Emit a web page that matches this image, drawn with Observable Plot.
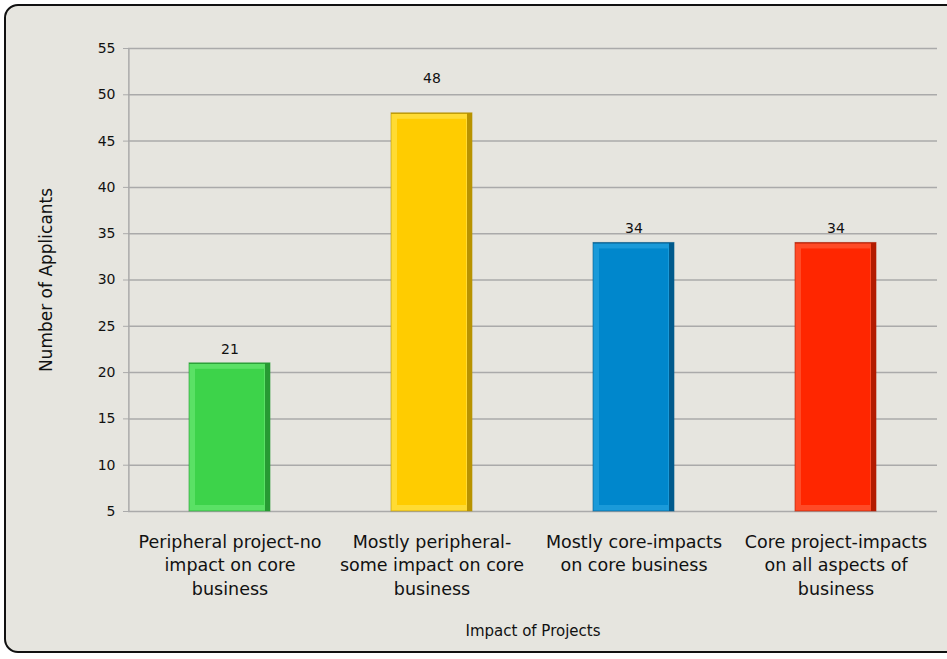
<!DOCTYPE html>
<html>
<head>
<meta charset="utf-8">
<script src="https://cdn.jsdelivr.net/npm/d3@7"></script>
<script src="https://cdn.jsdelivr.net/npm/@observablehq/plot@0.6"></script>
<style>
  html, body { margin: 0; padding: 0; background: #ffffff; }
  #frame {
    position: absolute; left: 4px; top: 4px; width: 960px; height: 649px;
    background: #e6e5df; border: 2.5px solid #111; border-radius: 14px; box-sizing: border-box;
  }
  #chart { position: absolute; left: 0; top: 0; }
</style>
</head>
<body>
<div id="frame"></div>
<div id="chart"></div>
<script>
const categories = [
  "Peripheral project-no\nimpact on core\nbusiness",
  "Mostly peripheral-\nsome impact on core\nbusiness",
  "Mostly core-impacts\non core business",
  "Core project-impacts\non all aspects of\nbusiness"
];
const values = [21, 48, 34, 34];
const mainColors = ["#3dd34a", "#ffcc00", "#0087cc", "#ff2600"];
const lightColors = ["#5ae165", "#ffdb33", "#1a9ad9", "#ff4a26"];
const darkColors = ["#279a33", "#b89300", "#005a8c", "#b31b00"];
const yTicks = [5, 10, 15, 20, 25, 30, 35, 40, 45, 50, 55];

const data = categories.map((c, i) => ({
  cat: c, value: values[i], main: mainColors[i], light: lightColors[i], dark: darkColors[i]
}));

const font = "DejaVu Sans, Verdana, sans-serif";
const W = 947, ML = 128, MR = 10;
const step = (W - ML - MR) / categories.length;

const chart = Plot.plot({
  width: W,
  height: 659,
  marginLeft: ML,
  marginRight: MR,
  marginTop: 48,
  marginBottom: 148,
  style: { background: "transparent", fontFamily: font, color: "#111" },
  x: { domain: categories, paddingInner: 0.6, paddingOuter: 0.3, label: null },
  y: { domain: [5, 55], ticks: yTicks, label: null },
  marks: [
    Plot.gridY(yTicks, { stroke: "#aaaaaa", strokeOpacity: 1, strokeWidth: 1.5 }),
    Plot.ruleX([categories[0]], { y1: 5, y2: 55, stroke: "#aaaaaa", strokeWidth: 1.5, dx: -step / 2 }),
    Plot.axisY({ ticks: yTicks, tickSize: 5, tickPadding: 8, stroke: "#aaaaaa", fontSize: 14, fill: "#111", label: null }),
    Plot.axisX({ tickSize: 0, tickPadding: 20, fontSize: 17.5, lineHeight: 1.33, fill: "#111", label: null }),
    // bevel layers
    Plot.barY(data, { x: "cat", y1: 5, y2: "value", fill: d => d.dark }),
    Plot.barY(data, { x: "cat", y1: 5, y2: "value", fill: d => d.light, insetRight: 5, insetTop: 1 }),
    Plot.barY(data, { x: "cat", y1: 5, y2: "value", fill: d => d.main, insetLeft: 6, insetRight: 6, insetTop: 6, insetBottom: 6 }),
    Plot.rectY(data, { x: "cat", y1: 5, y2: "value", fill: "none", stroke: d => d.dark, strokeWidth: 1, strokeOpacity: 0.6 }),
    Plot.text(data.filter(d => d.value < 45), { x: "cat", y: "value", text: d => String(d.value), dy: -14, fontSize: 14, fill: "#111" }),
    Plot.text(data.filter(d => d.value >= 45), { x: "cat", y: "value", text: d => String(d.value), dy: -35, fontSize: 14, fill: "#111" }),
    Plot.text(["Number of Applicants"], { frameAnchor: "left", textAnchor: "middle", dx: -82, rotate: -90, fontSize: 17, fill: "#111" }),
    Plot.text(["Impact of Projects"], { frameAnchor: "bottom", dy: 124, fontSize: 15, fill: "#111" })
  ]
});

document.getElementById("chart").append(chart);
</script>
</body>
</html>
